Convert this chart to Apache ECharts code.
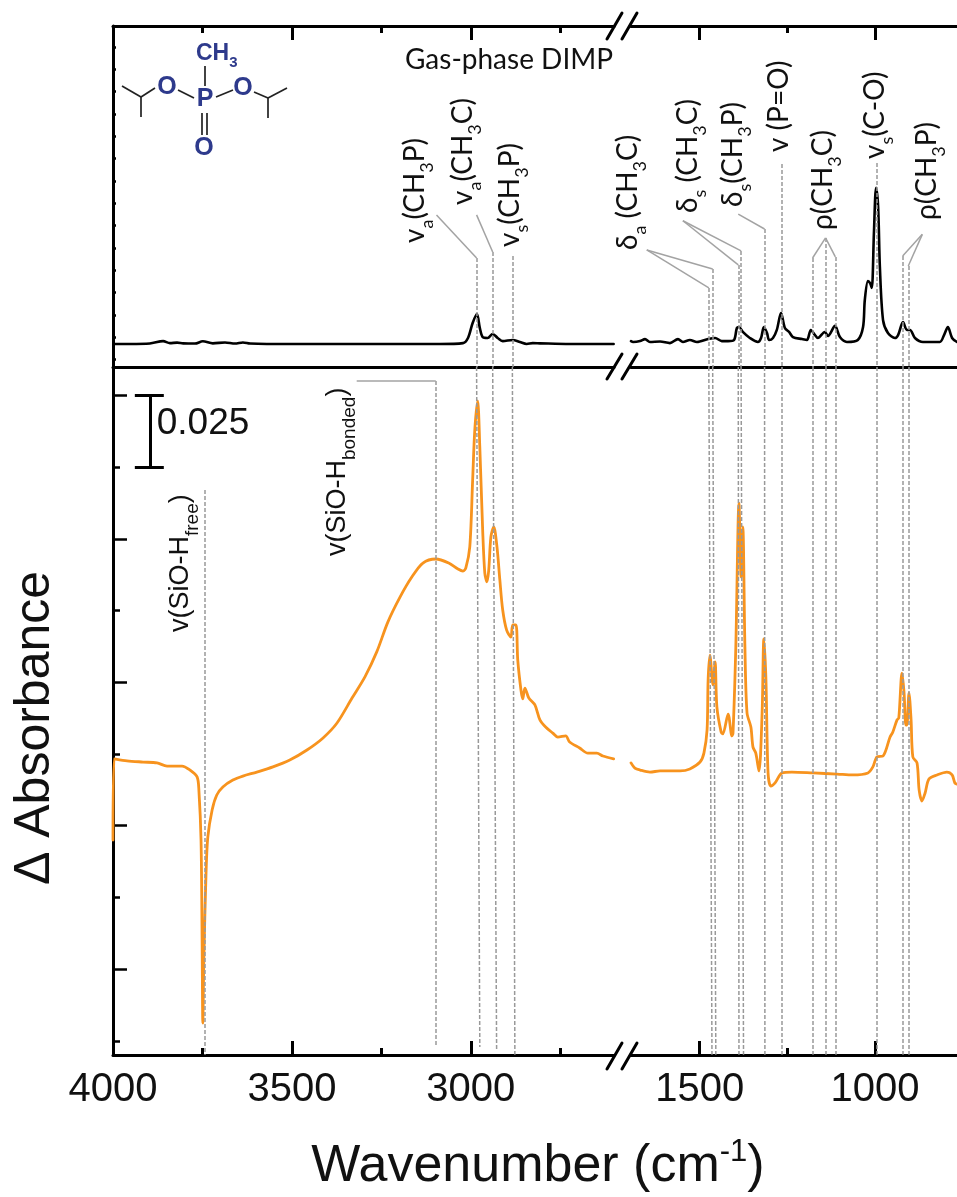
<!DOCTYPE html>
<html><head><meta charset="utf-8"><style>html,body{margin:0;padding:0;background:#fff}#c{width:957px;height:1197px}</style>
<script src="https://cdn.jsdelivr.net/npm/echarts@6/dist/echarts.min.js"></script></head>
<body><div id="c"></div><script>
// Wavenumber (cm-1), Delta Absorbance (x10^-3) on the adsorbed spectrum
const adsHighWn=[4000,3997,3961,3916,3877,3849,3807,3785,3765,3760,3754,3751,3749,3746,3740,3735,3723,3710,3693,3665,3637,3598,3553,3506,3458,3413,3374,3332,3296,3263,3232,3198,3165,3134,3098,3062,3036,3022,3014,3003,2995,2989,2981,2975,2967,2961,2955,2950,2944,2936,2927,2919,2911,2900,2888,2883,2874,2869,2860,2855,2849,2838,2821,2807,2791,2771,2757,2735,2724,2696,2673,2648,2631,2601];
const adsHighAbs=[-30,-1.7,-2.4,-2.8,-3.1,-4.2,-4.2,-5.6,-8,-12.6,-30,-64.9,-93.8,-70.8,-41.5,-28.9,-19.5,-14.3,-11.5,-9.1,-7.7,-6.3,-4.5,-2.1,1.4,5.6,10.8,19.5,26.9,35.6,46,54.7,61.7,66.6,68,66.6,64.5,63.8,64.9,72.2,95.5,113,123.1,107.1,78.1,63.1,60,64.2,75.7,79.2,72.2,60.7,50.2,43.2,40.8,45,45,32.8,22.3,19.2,23,19.5,17.1,11.9,9.4,7.3,5.9,6.3,4.2,2.1,0.3,0.3,-0.7,-1.7];
const adsLowWn=[1696,1685,1670,1642,1613,1556,1528,1499,1488,1479,1476,1471,1462,1456,1451,1439,1434,1419,1408,1405,1397,1388,1382,1377,1371,1365,1354,1348,1340,1331,1322,1317,1311,1305,1297,1285,1265,1237,1177,1108,1063,1020,1006,994,977,957,949,937,932,923,917,912,909,903,897,892,880,874,866,857,846,823,795,780,772,766];
const adsLowAbs=[-3.1,-4.9,-5.6,-6.3,-5.9,-5.9,-5.2,-2.8,0.3,8.4,25.8,34.5,24.1,32.1,16.4,7.7,7,13.9,6.3,7.3,37.3,87.5,61.7,79.2,37.3,14.3,9.4,2.4,0.3,-5.9,14.3,40.1,25.8,-6.6,-11.2,-10.1,-6.6,-6.3,-6.6,-7,-7.3,-6.6,-4.5,-1,-0.7,5.9,7.7,11.9,12.6,28.2,21.3,10.1,10.1,21.3,11.9,-1,-3.1,-12.6,-16.4,-13.6,-8.7,-7.3,-6.3,-7.3,-10.1,-10.5];
// Gas-phase DIMP spectrum (arbitrary units)
const gasHighWn=[3997,3953,3897,3860,3841,3821,3804,3771,3749,3721,3687,3659,3637,3617,3570,3478,3338,3198,3087,3022,3008,2995,2983,2975,2967,2953,2939,2925,2911,2883,2863,2844,2827,2807,2724,2601];
const gasHighAbs=[7,7,7.2,8.3,7.4,7.6,7.3,7.2,8.2,7.3,7.7,7.2,7.7,7.2,7,7,7,7,7,7.4,9.7,16.4,20.4,14.2,10.1,9.7,11.5,9.7,8.3,8.8,7.9,7,7.4,7.3,7,7];
const gasLowWn=[1696,1690,1670,1656,1642,1613,1585,1562,1548,1528,1508,1476,1456,1437,1419,1402,1394,1388,1377,1357,1334,1325,1317,1308,1302,1291,1280,1268,1257,1245,1234,1208,1194,1183,1171,1163,1143,1134,1114,1100,1080,1049,1034,1029,1020,1014,1009,1003,997,991,986,977,963,943,934,920,909,900,886,863,815,803,792,780,766];
const gasLowAbs=[8.3,7.9,8.3,9.2,7.9,8.1,7.4,9.2,7.9,8.8,7.9,9.2,9.7,8.3,8.3,8.8,14.2,14.6,12.4,9.7,7.9,9.7,14.6,11.9,8.8,9.7,13.3,20.9,14.2,12.4,10.1,9.2,8.8,13.3,11,9.7,12.4,10.6,15.1,10.1,7.9,8.8,14.6,26.7,35.2,34.3,32.1,56.7,76.9,68.4,41.5,17.7,11.9,9.7,11,16.8,13.3,13.3,9.7,7.9,7.9,11,14.6,9.7,7.9];
// Tick values
const tickHighMajor=[4000,3500,3000], tickHighMinor=[3750,3250,2750];
const tickLowMajor=[1500,1000], tickLowMinor=[1250];
const tickAbsMajor=[125,75,25,-25,-75], tickAbsMinor=[100,50,0,-50,-100];
const tickGas=[0,10,20,30,40,50,60,70,80,90,100,110,120,130,140];
// Band guides: [wavenumber in gas panel, height in gas panel, wavenumber at foot of adsorbed panel, foot value]
const guidesHigh=[[2984,45.5,2975,-102.2],[2939,48.2,2928,-103.2],[2884,46.4,2877,-104.9]];
const guidesLow=[[1474,32.1,1465,-104.9],[1463,40.6,1454,-104.9],[1390,42.4,1388,-104.9],[1382,48.7,1375,-104.9],[1315,58.5,1314,-104.9],[1267,87.6,1266,-104.9],[1178,45.5,1178,-104.9],[1141,54.5,1141,-104.9],[1113,46,1113,-104.9],[996,88.1,996,-104.9],[921,46.4,921,-104.9],[905,41.9,905,-104.9]];
// Leader lines in the gas panel: from label to guide top
const leadersHigh=[[3096,64.8,2984,45.5],[2984,64.8,2939,48.2]];
const leadersLow=[[1651,49.1,1474,32.1],[1651,49.1,1463,40.6],[1548,62.2,1390,42.4],[1548,62.2,1382,48.7],[1390,65.2,1315,58.5],[1141,54.5,1178,45.5],[1141,54.5,1113,46],[865,56.1,921,46.4],[865,56.1,905,41.9]];
const freeOH=[3743,92.1,3743,-104.9], bondedOH=[3098,130.1,3098,-102];
const bondedLeader=[3319,130.1,3098,130.1];
const scaleBar={wn:3897,capHi:3939,capLo:3858,top:125,bottom:100};

const X=[113,614,631,957], TOP=26, MID=367, BOT=1055, W=957, H=1197;
const grids=[
 {left:X[0],right:W-X[1],top:TOP,bottom:H-MID},{left:X[2],right:W-X[3],top:TOP,bottom:H-MID},
 {left:X[0],right:W-X[1],top:MID,bottom:H-BOT},{left:X[2],right:W-X[3],top:MID,bottom:H-BOT}];
const rangeX=[[2600,4000],[766,1696],[2600,4000],[766,1696]];
const rangeY=[[-3.3,149.4],[-3.3,149.4],[-104.96,134.95],[-104.96,134.95]];
const black='#000', ink='#111';
const LS='Liberation Sans, Arial, sans-serif', CS='Lato, "Noto Sans", sans-serif';
const xAxis=[], yAxis=[];
function addX(g,pos,ticks,len,line,labels){
 xAxis.push({type:'value',gridIndex:g,position:pos,inverse:true,min:rangeX[g][0],max:rangeX[g][1],splitLine:{show:false},
  axisLine:{show:line,onZero:false,lineStyle:{color:black,width:3}},
  axisTick:{show:!!ticks,inside:true,length:len,customValues:ticks||[],lineStyle:{color:black,width:3}},
  axisLabel:labels?{show:true,customValues:labels,margin:15,fontSize:40,color:ink,fontFamily:LS,formatter:v=>String(v)}:{show:false}});
 return xAxis.length-1;
}
function addY(g,ticks,len,line,show){
 yAxis.push({type:'value',gridIndex:g,show:show,position:'left',min:rangeY[g][0],max:rangeY[g][1],splitLine:{show:false},
  axisLine:{show:line,onZero:false,lineStyle:{color:black,width:3}},
  axisTick:{show:!!ticks,inside:true,length:len,customValues:ticks||[],lineStyle:{color:black,width:2.5}},
  axisLabel:{show:false}});
 return yAxis.length-1;
}
// gas panel
const xg0=addX(0,'top',[3500,3000],14,true); addX(0,'top',tickHighMinor,7,false); addX(0,'bottom',null,0,true);
const xg1=addX(1,'top',tickLowMajor,14,true); addX(1,'top',tickLowMinor,7,false); addX(1,'bottom',null,0,true);
// adsorbed panel
const xa0=addX(2,'bottom',tickHighMajor,14,true,tickHighMajor); addX(2,'bottom',tickHighMinor,7,false);
const xa1=addX(3,'bottom',tickLowMajor,14,true,tickLowMajor); addX(3,'bottom',tickLowMinor,7,false);
const yg0=addY(0,tickGas,3,true,true), yg1=addY(1,null,0,false,false);
const ya0=addY(2,tickAbsMajor,14,true,true); addY(2,tickAbsMinor,7,false,true);
const ya1=addY(3,null,0,false,false);

const zipXY=(a,b)=>a.map((v,i)=>[v,b[i]]);
function curve(name,xi,yi,wn,ab,color,width){
 return {type:'line',name,xAxisIndex:xi,yAxisIndex:yi,data:zipXY(wn,ab),showSymbol:false,symbol:'none',smooth:0.3,
  lineStyle:{color,width,cap:'round',join:'round'},itemStyle:{color},animation:false,silent:true,z:3};
}
function marks(name,xi,yi,segs,style,z){
 return {type:'line',name,xAxisIndex:xi,yAxisIndex:yi,data:[],showSymbol:false,animation:false,silent:true,z:z||5,
  markLine:{symbol:'none',silent:true,animation:false,label:{show:false},lineStyle:style,emphasis:{disabled:true},precision:4,
   data:segs.map(s=>[{coord:[s[0],s[1]]},{coord:[s[2],s[3]]}])}};
}
const dash={color:'#999999',width:1.5,type:[4,2]}, solid={color:'#a3a3a3',width:1.5,type:'solid'}, bar={color:black,width:3,type:'solid'};
const upper=g=>g.map(s=>[s[0],s[1],s[0],rangeY[0][0]+0.01]);
const lower=g=>g.map(s=>[s[0],rangeY[2][1]-0.01,s[2],s[3]]);
const series=[
 curve('Gas-phase DIMP (high)',xg0,yg0,gasHighWn,gasHighAbs,'#000',2.6),
 curve('Gas-phase DIMP (low)',xg1,yg1,gasLowWn,gasLowAbs,'#000',2.6),
 curve('Adsorbed DIMP (high)',xa0,ya0,adsHighWn,adsHighAbs,'#F7931E',2.8),
 curve('Adsorbed DIMP (low)',xa1,ya1,adsLowWn,adsLowAbs,'#F7931E',2.8),
 marks('guides',xg0,yg0,upper(guidesHigh),dash),
 marks('guides',xg1,yg1,upper(guidesLow),dash),
 marks('guides',xa0,ya0,lower(guidesHigh).concat([freeOH,bondedOH]),dash),
 marks('guides',xa1,ya1,lower(guidesLow),dash),
 marks('leaders',xg0,yg0,leadersHigh,solid),
 marks('leaders',xg1,yg1,leadersLow,solid),
 marks('leaders',xa0,ya0,[bondedLeader],solid),
 marks('scale',xa0,ya0,[[scaleBar.wn,scaleBar.top,scaleBar.wn,scaleBar.bottom],[scaleBar.capHi,scaleBar.top,scaleBar.capLo,scaleBar.top],[scaleBar.capHi,scaleBar.bottom,scaleBar.capLo,scaleBar.bottom]],bar)
];

// Rotated band labels
const FS=28, SS=18;
const rich={n:{fontSize:FS,fontFamily:CS,fill:ink,lineHeight:32},s:{fontSize:SS,fontFamily:CS,fill:ink,verticalAlign:'bottom',lineHeight:42},
 a:{fontSize:27,fontFamily:LS,fill:ink,lineHeight:32},t:{fontSize:19,fontFamily:LS,fill:ink,verticalAlign:'bottom',lineHeight:42}};
const bandLabels=[
 ['{n|v}{s|a}{n|(CH}{s|3}{n|P)}',415,243],['{n|v}{s|a}{n|(CH}{s|3}{n|C)}',463,205],['{n|v}{s|s}{n|(CH}{s|3}{n|P)}',510,247],
 ['{n|δ}{s|a}{n| (CH}{s|3}{n|C)}',628,250],['{n|δ}{s|s}{n| (CH}{s|3}{n|C)}',688,213],['{n|δ}{s|s}{n|(CH}{s|3}{n|P)}',733,207],
 ['{n|v (P=O)}',779,152],['{n|ρ(CH}{s|3}{n|C)}',823,230],['{n|v}{s|s}{n|(C-O)}',875,159],['{n|ρ(CH}{s|3}{n|P)}',927,220],
 ['{a|v(SiO-H}{t|free}{a|)}',181,632],['{a|v(SiO-H}{t|bonded}{a|)}',338,556]
];
const gfx=[];
bandLabels.forEach(b=>gfx.push({type:'text',x:b[1],y:b[2],rotation:Math.PI/2,silent:true,z:20,style:{text:b[0],rich,align:'left',verticalAlign:'middle'}}));
const txt=(x,y,text,font,extra)=>Object.assign({type:'text',x,y,silent:true,z:20,style:{text,font,fill:ink,align:'center',verticalAlign:'middle'}},extra||{});
gfx.push(txt(509,60,'Gas-phase DIMP','28px '+CS));
gfx.push(txt(203,424,'0.025','37px '+LS));
gfx.push(txt(35,728,'Δ Absorbance','50px '+LS,{rotation:Math.PI/2}));
gfx.push({type:'text',x:538,y:1167,silent:true,z:20,style:{text:'{m|Wavenumber (cm}{u|-1}{m|)}',align:'center',verticalAlign:'middle',
  rich:{m:{fontSize:52,fontFamily:LS,fill:ink,lineHeight:60},u:{fontSize:31,fontFamily:LS,fill:ink,verticalAlign:'top',lineHeight:60}}}});
// Axis-break marks
const seg=(x1,y1,x2,y2,c,w,cap)=>({type:'line',silent:true,z:15,shape:{x1,y1,x2,y2},style:{stroke:c,lineWidth:w,lineCap:cap||'round'}});
[[39,13],[379,354],[1069,1043]].forEach(([lo,hi])=>{gfx.push(seg(607,lo,622,hi,black,3));gfx.push(seg(622,lo,637,hi,black,3));});
// Molecule
const blue='#2E3A8C', M='bold 25px '+LS;
[[167,87],[205,99],[243,88],[204,148]].forEach((p,i)=>gfx.push({type:'text',x:p[0],y:p[1],silent:true,z:20,style:{text:i===1?'P':'O',font:M,fill:blue,align:'center',verticalAlign:'middle'}}));
gfx.push({type:'text',x:196,y:54,silent:true,z:20,style:{text:'{c|CH}{d|3}',align:'left',verticalAlign:'middle',
  rich:{c:{fontSize:23,fontWeight:'bold',fontFamily:LS,fill:blue,lineHeight:26},d:{fontSize:15,fontWeight:'bold',fontFamily:LS,fill:blue,verticalAlign:'bottom',lineHeight:32}}}});
[[205,66,205,86],[178,90,194,98],[216,97,233,90],[202,113,202,135],[207,113,207,135],[122,86,141,97],[141,97,155,88],[141,97,141,117],[254,92,268,98],[268,98,287,88],[268,98,268,118]]
 .forEach(l=>gfx.push(seg(l[0],l[1],l[2],l[3],'#222',1.7,'butt')));

const chart=echarts.init(document.getElementById('c'),null,{renderer:'canvas'});
chart.setOption({animation:false,backgroundColor:'#fff',grid:grids,xAxis,yAxis,series,graphic:{elements:gfx},tooltip:{show:false},legend:{show:false}});
</script></body></html>
